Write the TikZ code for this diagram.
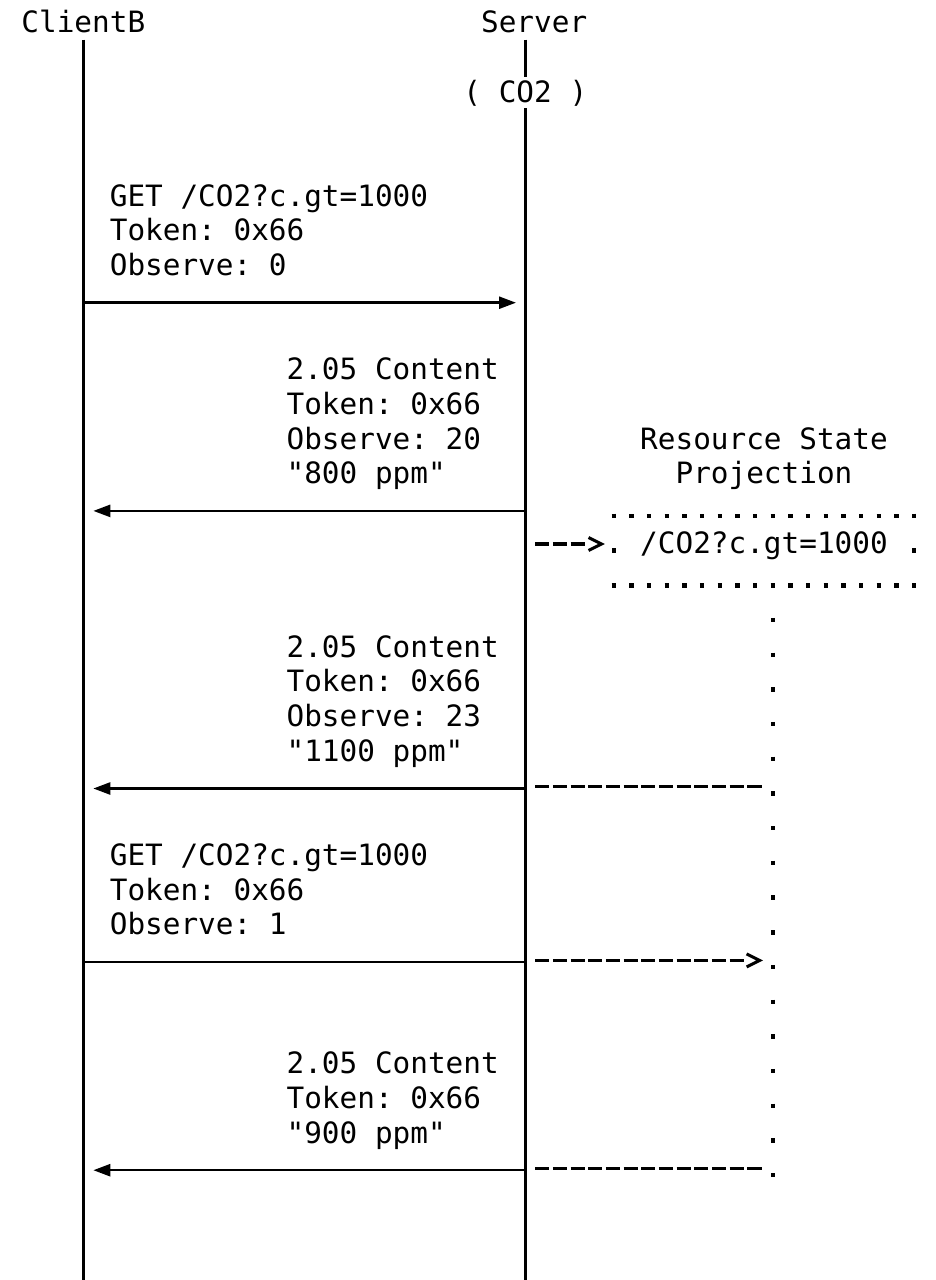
\documentclass[tikz,border=0pt]{standalone}
\usepackage{fontspec}
\newfontfamily\mono{DejaVu Sans Mono}
\usetikzlibrary{arrows.meta}
\frenchspacing
\begin{document}
\begin{tikzpicture}[x=17.68pt, y=-34.7pt,
  lbl/.style={anchor=base west, inner sep=0pt, outer sep=0pt,
    font=\mono\fontsize{29.37pt}{34.7pt}\selectfont, yshift=-7.5pt},
  life/.style={line width=2.5pt},
  msg/.style={line width=2.5pt, -{Triangle[length=17pt,width=12pt]}},
  plainmsg/.style={line width=2.5pt},
  dashcon/.style={line width=3.1pt, dash pattern=on 14.2pt off 3.48pt},
  barbtip/.style={-{Straight Barb[length=13pt,width=13pt,line width=3pt]}},
  dashthree/.style={line width=3.1pt, barbtip,
    dash pattern=on 14.2pt off 3.48pt on 14.2pt off 3.48pt on 14.2pt off 200pt},
  dashtwelve/.style={line width=3.1pt, barbtip,
    dash pattern=on 14.2pt off 3.48pt on 14.2pt off 3.48pt on 14.2pt off 3.48pt
      on 14.2pt off 3.48pt on 14.2pt off 3.48pt on 14.2pt off 3.48pt
      on 14.2pt off 3.48pt on 14.2pt off 3.48pt on 14.2pt off 3.48pt
      on 14.2pt off 3.48pt on 14.2pt off 3.48pt on 14.2pt off 400pt},
  dotcol/.style={line width=4.4pt, dash pattern=on 4.4pt off 30.3pt},
  dotrow/.style={line width=4.4pt, dash pattern=on 4.4pt off 13.28pt}
]
% canvas
\fill[white] (-21.42pt,25.1pt) rectangle ++(935pt,-1280pt);
\path[use as bounding box] (-21.42pt,25.1pt) rectangle ++(935pt,-1280pt);

% headers
\node[lbl] (clientB) at (0,0) {ClientB};
\node[lbl] (server) at (26,0) {Server};
\node[lbl] (co2) at (25,2) {( CO2 )};

% lifelines
\coordinate (cTop) at (3.5,0.42);
\coordinate (cBot) at (3.5,36.17);
\coordinate (sTop) at (28.5,0.42);
\coordinate (sMid1) at (28.5,1.49);
\coordinate (sMid2) at (28.5,2.39);
\coordinate (sBot) at (28.5,36.17);
\draw[life] (cTop) -- (cBot);
\draw[life] (sTop) -- (sMid1);
\draw[life] (sMid2) -- (sBot);

% message 1
\node[lbl] (m1a) at (5,5) {GET /CO2?c.gt=1000};
\node[lbl] (m1b) at (5,6) {Token: 0x66};
\node[lbl] (m1c) at (5,7) {Observe: 0};
\coordinate (c8) at (3.5,8);
\coordinate (s8) at (27.974,8);
\draw[msg] (c8) -- (s8);

% message 2
\node[lbl] (m2a) at (15,10) {2.05 Content};
\node[lbl] (m2b) at (15,11) {Token: 0x66};
\node[lbl] (m2c) at (15,12) {Observe: 20};
\node[lbl] (m2d) at (15,13) {"800 ppm"};
\coordinate (s14) at (28.5,14);
\coordinate (c14) at (4.066,14);
\draw[msg] (s14) -- (c14);

% resource state projection
\node[lbl] (rs1) at (35,12) {Resource State};
\node[lbl] (rs2) at (37,13) {Projection};
\node[lbl] (boxtxt) at (35,15) {/CO2?c.gt=1000};
% dotted frame of the projection box
\coordinate (bTL) at ({33.5-2.2/17.68},14.145);
\coordinate (bTR) at ({50.5+2.2/17.68},14.145);
\coordinate (bBL) at ({33.5-2.2/17.68},16.145);
\coordinate (bBR) at ({50.5+2.2/17.68},16.145);
\draw[dotrow] (bTL) -- (bTR);
\draw[dotrow] (bBL) -- (bBR);
\coordinate (bLT) at (33.5,{14.145-2.2/34.7});
\coordinate (bLB) at (33.5,{16.145+2.2/34.7});
\coordinate (bRT) at (50.5,{14.145-2.2/34.7});
\coordinate (bRB) at (50.5,{16.145+2.2/34.7});
\draw[dotcol] (bLT) -- (bLB);
\draw[dotcol] (bRT) -- (bRB);
\coordinate (d15) at (29.057,14.954);
\coordinate (t15) at (33.0,14.954);
\draw[dashthree] (d15) -- (t15);
% dotted state line
\coordinate (dTop) at (42.5,{17.145-2.2/34.7});
\coordinate (dBot) at (42.5,{33.145+2.2/34.7});
\draw[dotcol] (dTop) -- (dBot);

% message 3
\node[lbl] (m3a) at (15,18) {2.05 Content};
\node[lbl] (m3b) at (15,19) {Token: 0x66};
\node[lbl] (m3c) at (15,20) {Observe: 23};
\node[lbl] (m3d) at (15,21) {"1100 ppm"};
\coordinate (s22) at (28.5,22);
\coordinate (c22) at (4.066,22);
\draw[msg] (s22) -- (c22);
\coordinate (d22a) at (29.057,21.954);
\coordinate (d22b) at (41.86,21.954);
\draw[dashcon] (d22a) -- (d22b);

% message 4
\node[lbl] (m4a) at (5,24) {GET /CO2?c.gt=1000};
\node[lbl] (m4b) at (5,25) {Token: 0x66};
\node[lbl] (m4c) at (5,26) {Observe: 1};
\coordinate (c27) at (3.5,27);
\coordinate (s27) at (28.5,27);
\draw[plainmsg] (c27) -- (s27);
\coordinate (d27a) at (29.057,26.954);
\coordinate (d27b) at (41.945,26.954);
\draw[dashtwelve] (d27a) -- (d27b);

% message 5
\node[lbl] (m5a) at (15,30) {2.05 Content};
\node[lbl] (m5b) at (15,31) {Token: 0x66};
\node[lbl] (m5c) at (15,32) {"900 ppm"};
\coordinate (s33) at (28.5,33);
\coordinate (c33) at (4.066,33);
\draw[msg] (s33) -- (c33);
\coordinate (d33a) at (29.057,32.954);
\coordinate (d33b) at (41.86,32.954);
\draw[dashcon] (d33a) -- (d33b);
\end{tikzpicture}
\end{document}
